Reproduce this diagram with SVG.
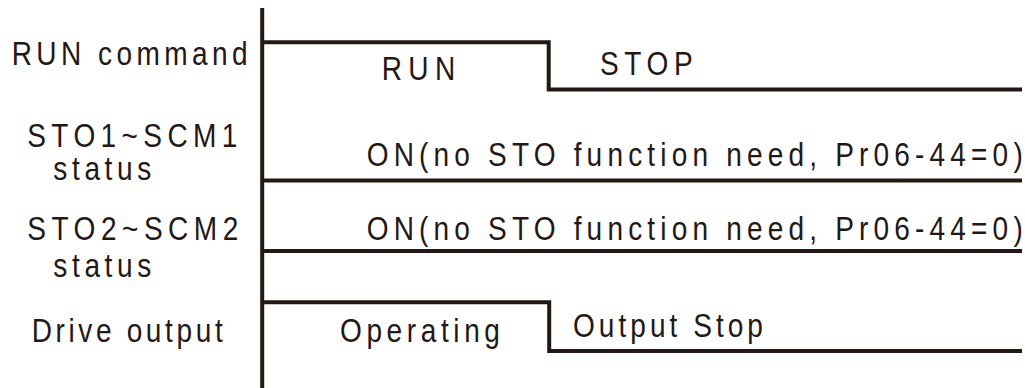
<svg xmlns="http://www.w3.org/2000/svg" width="1025" height="388" viewBox="0 0 1025 388">
  <style>
    .t { font-family: "Liberation Sans", Arial, sans-serif; font-size: 33px; fill: #231815; }
    .w { fill: none; stroke: #231815; stroke-width: 4; stroke-linejoin: miter; stroke-linecap: butt; }
  </style>
  <rect width="1025" height="388" fill="#ffffff"/>
  <g id="labels">
    <g id="label-run-command">
      <text class="t" transform="translate(11.7 65) scale(0.85 1)" textLength="277.6" lengthAdjust="spacing">RUN command</text>
    </g>
    <g id="label-sto1">
      <text class="t" transform="translate(27.3 146.7) scale(0.85 1)" textLength="247.1" lengthAdjust="spacing">STO1~SCM1</text>
      <text class="t" transform="translate(53.3 180) scale(0.85 1)" textLength="115.3" lengthAdjust="spacing">status</text>
    </g>
    <g id="label-sto2">
      <text class="t" transform="translate(27.3 240) scale(0.85 1)" textLength="248.2" lengthAdjust="spacing">STO2~SCM2</text>
      <text class="t" transform="translate(53.3 276.5) scale(0.85 1)" textLength="115.3" lengthAdjust="spacing">status</text>
    </g>
    <g id="label-drive-output">
      <text class="t" transform="translate(31.7 341.7) scale(0.85 1)" textLength="224.7" lengthAdjust="spacing">Drive output</text>
    </g>
  </g>
  <g id="connectors">
    <line id="time-axis" class="w" x1="262.2" y1="8" x2="262.2" y2="388"/>
    <path id="signal-run-command" class="w" d="M262.2 42.2 H548.7 V89.5 H1022"/>
    <path id="signal-sto1" class="w" d="M262.2 180.5 H1022"/>
    <path id="signal-sto2" class="w" d="M262.2 251 H1022"/>
    <path id="signal-drive-output" class="w" d="M262.2 302.3 H549.2 V351 H1022"/>
  </g>
  <g id="state-labels">
    <g id="state-run"><text class="t" transform="translate(381.7 80) scale(0.85 1)" textLength="86.5" lengthAdjust="spacing">RUN</text></g>
    <g id="state-stop"><text class="t" transform="translate(600 75) scale(0.85 1)" textLength="109.1" lengthAdjust="spacing">STOP</text></g>
    <g id="state-sto1-on"><text class="t" transform="translate(366.7 166) scale(0.85 1)" textLength="771.8" lengthAdjust="spacing">ON(no STO function need, Pr06-44=0)</text></g>
    <g id="state-sto2-on"><text class="t" transform="translate(366.7 239.5) scale(0.85 1)" textLength="771.8" lengthAdjust="spacing">ON(no STO function need, Pr06-44=0)</text></g>
    <g id="state-operating"><text class="t" transform="translate(340 341.7) scale(0.85 1)" textLength="188.2" lengthAdjust="spacing">Operating</text></g>
    <g id="state-output-stop"><text class="t" transform="translate(573 336.7) scale(0.85 1)" textLength="223.5" lengthAdjust="spacing">Output Stop</text></g>
  </g>
</svg>
